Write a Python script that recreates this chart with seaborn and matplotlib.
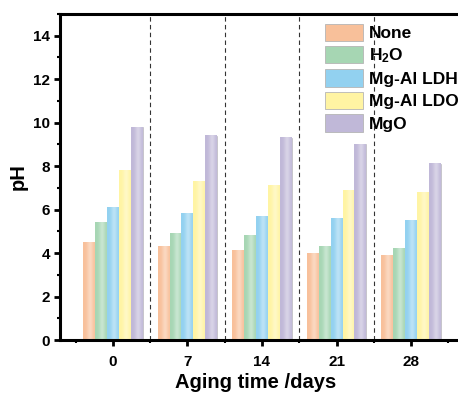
import numpy as np
import pandas as pd
import seaborn as sns
import matplotlib.pyplot as plt
from matplotlib.patches import Patch
from matplotlib.colors import to_rgb
from matplotlib.ticker import MultipleLocator, FixedLocator

# Data
days = ['0', '7', '14', '21', '28']
agents = ['None', 'H$_2$O', 'Mg-Al LDH', 'Mg-Al LDO', 'MgO']
ph_none = [4.5, 4.3, 4.1, 4.0, 3.9]
ph_h2o = [5.4, 4.9, 4.8, 4.3, 4.2]
ph_ldh = [6.1, 5.8, 5.7, 5.6, 5.5]
ph_ldo = [7.8, 7.3, 7.1, 6.9, 6.8]
ph_mgo = [9.8, 9.4, 9.3, 9.0, 8.1]
colors = ['#F8C09A', '#A6D6B3', '#92D1F0', '#FFF4A3', '#C0B8D8']

sns.set_style('ticks')
plt.rcParams['font.family'] = ['Liberation Sans', 'DejaVu Sans']
plt.rcParams['font.weight'] = 'bold'
plt.rcParams['text.color'] = 'black'
plt.rcParams['axes.labelcolor'] = 'black'
plt.rcParams['xtick.color'] = 'black'
plt.rcParams['ytick.color'] = 'black'
plt.rcParams['mathtext.fontset'] = 'custom'
plt.rcParams['mathtext.rm'] = 'Liberation Sans:bold'
plt.rcParams['mathtext.default'] = 'rm'

rows = []
for agent, vals in zip(agents, [ph_none, ph_h2o, ph_ldh, ph_ldo, ph_mgo]):
    for d, v in zip(days, vals):
        rows.append({'day': d, 'pH': v, 'agent': agent})
df = pd.DataFrame(rows)

fig = plt.figure(figsize=(4.58, 3.93), dpi=100)
ax = fig.add_axes([60 / 458, 53 / 393, 404 / 458, 326 / 393])

sns.barplot(data=df, x='day', y='pH', hue='agent', order=days, hue_order=agents,
            palette=colors, width=0.8, saturation=1, legend=False, ax=ax,
            edgecolor='#B5B5B5', linewidth=0.4)

# horizontal shading on each bar
t = np.linspace(0, 1, 64)
light = 0.38 * np.exp(-((t - 0.6) / 0.26) ** 2)
for p in list(ax.patches):
    c = np.array(to_rgb(p.get_facecolor()))
    grad = c[None, :] * (1 - light[:, None]) + light[:, None]
    x0, w, h = p.get_x(), p.get_width(), p.get_height()
    ax.imshow(grad[None, :, :], extent=[x0, x0 + w, 0, h], aspect='auto',
              clip_path=p, zorder=p.get_zorder() + 0.1, interpolation='bilinear')

ax.set_xlim(-0.71, 4.71)
ax.set_ylim(0, 15)

for xv in [0.5, 1.5, 2.5, 3.5]:
    ax.axvline(xv, color='#333333', ls=(0, (4, 3)), lw=0.8, zorder=1)

ax.yaxis.set_major_locator(FixedLocator([0, 2, 4, 6, 8, 10, 12, 14]))
ax.yaxis.set_minor_locator(MultipleLocator(1))
ax.xaxis.set_minor_locator(FixedLocator([-0.5, 0.5, 1.5, 2.5, 3.5, 4.5]))
ax.tick_params(axis='both', which='major', direction='out', length=4, width=2,
               labelsize=11, color='black')
ax.tick_params(axis='x', which='major', pad=7)
ax.tick_params(axis='y', which='major', pad=3)
ax.tick_params(axis='both', which='minor', direction='out', length=2.5, width=1.5,
               color='black')
for lab in ax.get_xticklabels() + ax.get_yticklabels():
    lab.set_fontweight('bold')

for s in ['left', 'top', 'bottom', 'right']:
    ax.spines[s].set_linewidth(2.2)
    ax.spines[s].set_color('black')

ax.set_xlabel('Aging time /days', fontsize=14.5, fontweight='bold', labelpad=3)
ax.xaxis.label.set_x(196 / 404)
ax.set_ylabel('pH', fontsize=14.5, fontweight='bold', labelpad=4)

handles = [Patch(facecolor=c, edgecolor='#B5B5B5', linewidth=0.6) for c in colors]
ax.legend(handles, agents, loc='upper left', bbox_to_anchor=(255 / 404, 1.0),
          frameon=False, handlelength=2.2, handleheight=1.2,
          labelspacing=0.25, handletextpad=0.35, borderaxespad=0.15,
          prop={'weight': 'bold', 'size': 12.5})

fig.savefig('out.png', dpi=100)
